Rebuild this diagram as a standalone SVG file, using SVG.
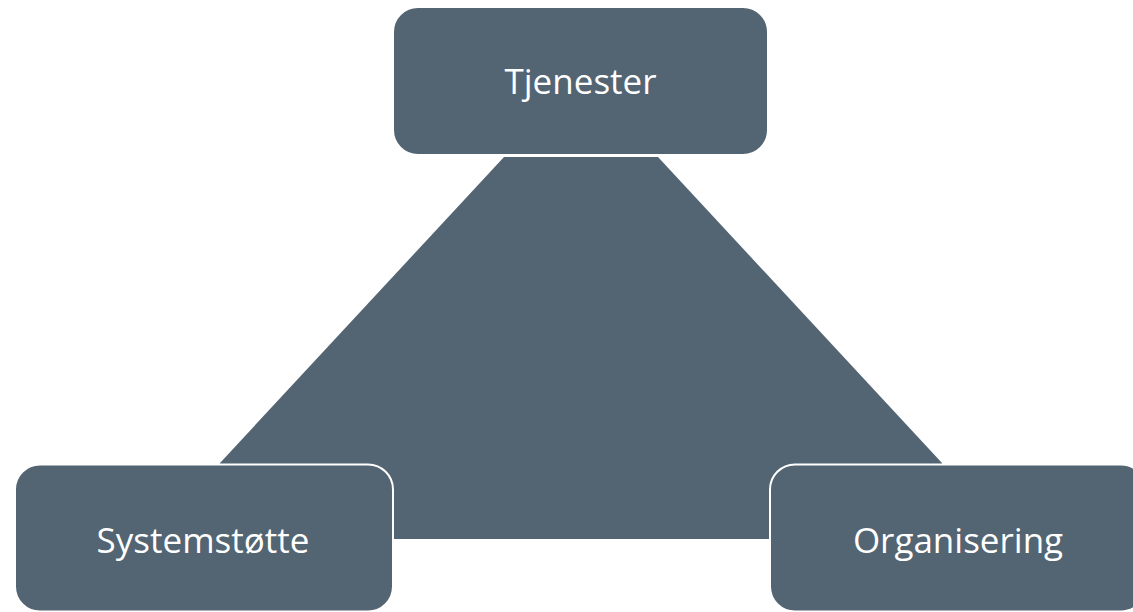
<svg xmlns="http://www.w3.org/2000/svg" width="1133" height="612" viewBox="0 0 1133 612">
  <style>
    .box { fill: #536472; stroke: #ffffff; stroke-width: 2; }
    .lbl { fill: #ffffff; font-family: "Open Sans", "Liberation Sans", sans-serif; font-size: 35px; text-anchor: middle; }
  </style>
  <rect width="1133" height="612" fill="#ffffff"/>
  <g id="triangle">
    <polygon points="504,157 658,157 942,463 942,539 220,539 220,463" fill="#536472"/>
  </g>
  <g id="connectors"></g>
  <g id="node-tjenester">
    <rect class="box" x="393" y="7" width="375" height="148" rx="25" ry="25"/>
    <text class="lbl" x="580.5" y="94">Tjenester</text>
  </g>
  <g id="node-systemstotte">
    <rect class="box" x="15" y="464.5" width="378" height="147" rx="25" ry="25"/>
    <text class="lbl" x="203" y="553">Systemstøtte</text>
  </g>
  <g id="node-organisering">
    <rect class="box" x="770" y="464.5" width="376" height="147" rx="25" ry="25"/>
    <text class="lbl" x="958" y="553">Organisering</text>
  </g>
</svg>
